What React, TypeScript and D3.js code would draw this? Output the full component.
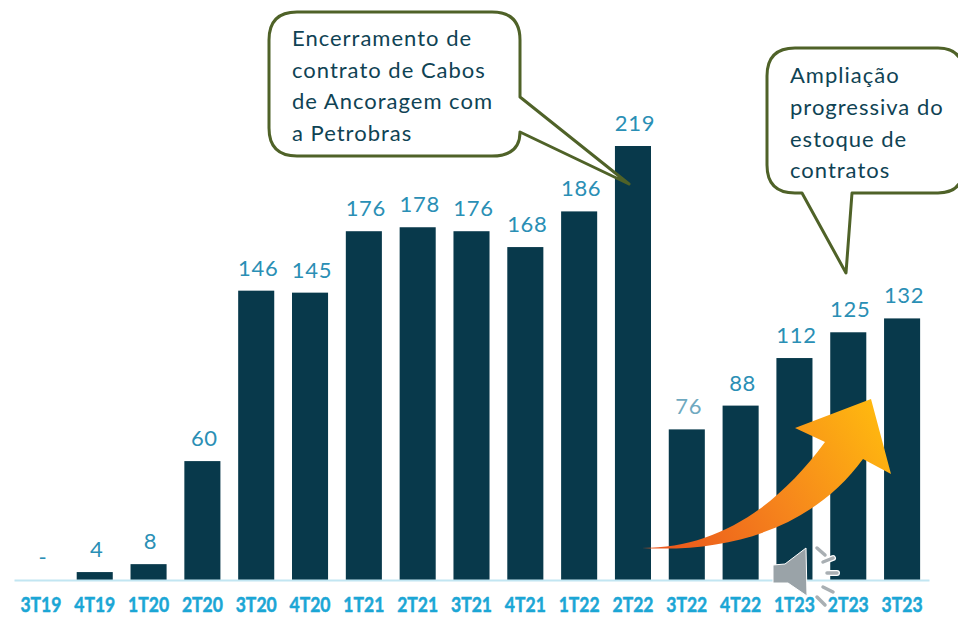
import React, {useRef, useEffect} from "react";
import * as d3 from "d3";

const quarters = ["3T19", "4T19", "1T20", "2T20", "3T20", "4T20", "1T21", "2T21", "3T21", "4T21", "1T22", "2T22", "3T22", "4T22", "1T23", "2T23", "3T23"];
const values = [0, 4, 8, 60, 146, 145, 176, 178, 176, 168, 186, 219, 76, 88, 112, 125, 132];
const noteLeft = ["Encerramento de", "contrato de Cabos", "de Ancoragem com", "a Petrobras"];
const noteRight = ["Ampliação", "progressiva do", "estoque de", "contratos"];

const App = () => {
    const ref = useRef<SVGSVGElement>(null);

    useEffect(() => {
        const svgWidth = 958;
        const svgHeight = 617;
        const baseline = 580;
        const barColor = "#08394b";
        const labelColor = "#2a8fb5";
        const noteColor = "#0f4354";
        const noteStroke = "#4f6228";
        const font = "Lato, sans-serif";

        const svg = d3.select(ref.current)
            .attr("width", svgWidth)
            .attr("height", svgHeight);

        svg.selectAll("*").remove();

        const xScale = d3.scaleBand<string>()
            .domain(quarters)
            .range([14, 929])
            .paddingInner(0.33)
            .paddingOuter(0.165);

        const yScale = d3.scaleLinear()
            .domain([0, 219])
            .range([baseline, 146]);

        // Arrow gradient
        const gradient = svg.append("defs").append("linearGradient")
            .attr("id", "arrowFill")
            .attr("gradientUnits", "userSpaceOnUse")
            .attr("x1", 660).attr("y1", 550)
            .attr("x2", 880).attr("y2", 410);
        gradient.append("stop").attr("offset", "0").attr("stop-color", "#ea561c");
        gradient.append("stop").attr("offset", "0.5").attr("stop-color", "#f6861c");
        gradient.append("stop").attr("offset", "1").attr("stop-color", "#ffb90f");

        // Bars
        svg.append("g")
            .selectAll("rect")
            .data(values)
            .join("rect")
            .attr("x", (d, i) => xScale(quarters[i]) as number)
            .attr("y", d => yScale(d))
            .attr("width", xScale.bandwidth())
            .attr("height", d => baseline - yScale(d))
            .attr("fill", barColor);

        // Value labels
        svg.append("g")
            .selectAll("text")
            .data(values)
            .join("text")
            .attr("x", (d, i) => (xScale(quarters[i]) as number) + xScale.bandwidth() / 2 + 2)
            .attr("y", d => yScale(d) - 15)
            .attr("text-anchor", "middle")
            .style("font-family", font)
            .style("font-size", "22px")
            .style("letter-spacing", "0.7px")
            .style("fill", (d, i) => quarters[i] === "3T22" ? "#6fa9c0" : labelColor)
            .text(d => d === 0 ? "-" : d);

        // X axis
        const axis = svg.append("g")
            .attr("transform", `translate(0,${baseline})`)
            .call(d3.axisBottom(xScale).tickSize(0).tickSizeOuter(0).tickPadding(18));
        axis.select(".domain")
            .attr("stroke", "#c2e6f2")
            .attr("stroke-width", 2);
        axis.selectAll("text")
            .attr("textLength", 41)
            .attr("lengthAdjust", "spacingAndGlyphs")
            .style("font-family", font)
            .style("font-weight", "bold")
            .style("font-size", "20px")
            .style("stroke", "#1ba6d5")
            .style("stroke-width", 0.5)
            .style("fill", "#1ba6d5");

        // Growth arrow
        svg.append("path")
            .attr("d", "M642,548 C715,548 775,510 825,442 L795,428 L871,399 L891,474 L863,459 C815,525 735,553 642,548 Z")
            .attr("fill", "url(#arrowFill)");

        // Speaker icon
        const speaker = svg.append("g");
        speaker.append("path")
            .attr("d", "M773,565 L785,564 L806,548 L807,596 L788,583 L773,583 Z")
            .attr("fill", "#9aa3a8")
            .attr("stroke", "#fff")
            .attr("stroke-width", 1);
        const waves = "M817,548 L825,555 M823,562 L833,558 M827,573 L837,573 M823,587 L833,592 M817,597 L825,605";
        speaker.append("path")
            .attr("d", waves)
            .attr("stroke", "#fff")
            .attr("stroke-width", 6)
            .attr("stroke-linecap", "round");
        speaker.append("path")
            .attr("d", waves)
            .attr("stroke", "#a9afb3")
            .attr("stroke-width", 3.5)
            .attr("stroke-linecap", "round");

        // Callouts
        const calloutLeft = "M297,12 H492 Q520,12 520,40 V97 L629,184 L520,132 Q520,156 492,156 H297 Q269,156 269,128 V40 Q269,12 297,12 Z";
        const calloutRight = "M795,48 H938 Q964,48 964,76 V165 Q964,193 938,193 H852 L846,273 L802,193 H795 Q767,193 767,165 V76 Q767,48 795,48 Z";

        [calloutLeft, calloutRight].forEach(d => {
            svg.append("path")
                .attr("d", d)
                .attr("fill", "#fff")
                .attr("stroke", noteStroke)
                .attr("stroke-width", 3)
                .attr("stroke-linejoin", "round");
        });

        const drawNote = (lines: string[], x: number, ys: number[]) => {
            svg.append("g")
                .selectAll("text")
                .data(lines)
                .join("text")
                .attr("x", x)
                .attr("y", (d, i) => ys[i])
                .style("font-family", font)
                .style("font-size", "22px")
                .style("letter-spacing", "1px")
                .style("fill", noteColor)
                .text(d => d);
        };
        drawNote(noteLeft, 292, [46, 78, 109, 141]);
        drawNote(noteRight, 790, [83, 115, 147, 178]);
    }, []);

    return (
        <div style={{position: "absolute", left: 0, top: 0}}>
            <svg ref={ref} style={{display: "block"}}></svg>
        </div>
    );
};

export default App;
